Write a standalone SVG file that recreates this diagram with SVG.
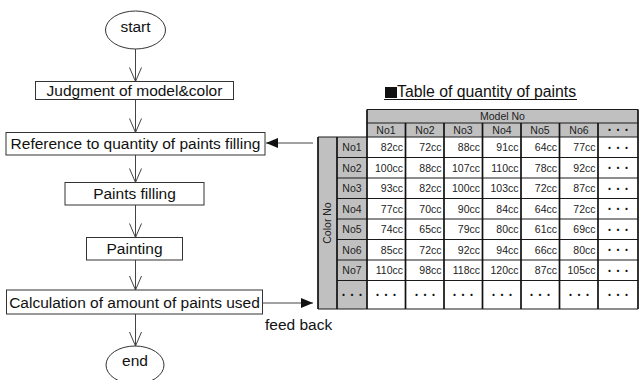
<svg xmlns="http://www.w3.org/2000/svg" width="639" height="380" viewBox="0 0 639 380">
<defs>
<style>
.box{fill:#fff;stroke:#333;stroke-width:1}
.ft{font-family:"Liberation Sans",Arial,sans-serif;font-size:15.5px;fill:#111;text-anchor:middle}
.conn{stroke:#444;stroke-width:1;fill:none}
.tt{font-family:"Liberation Sans",Arial,sans-serif;font-size:10.5px;fill:#222}
.c{text-anchor:middle}
.r{text-anchor:end}
.dots{font-family:"Noto Sans CJK JP",sans-serif;font-size:8.5px;font-weight:bold;fill:#111;text-anchor:middle}
.grid{stroke:#1a1a1a;stroke-width:1;fill:none}
.vgrid{stroke:#111;stroke-width:1.7;fill:none}
</style>
<marker id="tri" viewBox="0 0 12 10" refX="12" refY="5" markerWidth="12" markerHeight="10" markerUnits="userSpaceOnUse" orient="auto">
<path d="M0,0 L12,5 L0,10 Z" fill="#111"/>
</marker>
</defs>
<rect width="639" height="380" fill="#fff"/>

<g id="connectors">
<line class="conn" x1="135.5" y1="49" x2="135.5" y2="81.5"/>
<line class="conn" x1="135.5" y1="99.5" x2="135.5" y2="132.5"/>
<line class="conn" x1="135.5" y1="155" x2="135.5" y2="182.5"/>
<line class="conn" x1="135.5" y1="205" x2="135.5" y2="237.5"/>
<line class="conn" x1="135.5" y1="260" x2="135.5" y2="290"/>
<line class="conn" x1="135.5" y1="314" x2="135.5" y2="346"/>
<path class="conn" d="M129.5,67.5 L135.5,81.5 L141.5,67.5 M129.5,118.5 L135.5,132.5 L141.5,118.5 M129.5,168.5 L135.5,182.5 L141.5,168.5 M129.5,223.5 L135.5,237.5 L141.5,223.5 M129.5,276 L135.5,290 L141.5,276 M129.5,332 L135.5,346 L141.5,332"/>
<line class="conn" x1="313" y1="143" x2="266" y2="143" marker-end="url(#tri)"/>
<line class="conn" x1="262.5" y1="303" x2="313" y2="303" marker-end="url(#tri)"/>
</g>

<g id="start">
<ellipse cx="135.5" cy="30" rx="30" ry="19" class="box"/>
<text x="135.5" y="32" class="ft">start</text>
</g>
<g id="judgment">
<rect x="35.5" y="81.5" width="198" height="18" class="box"/>
<text x="134.5" y="96" class="ft">Judgment of model&amp;color</text>
</g>
<g id="reference">
<rect x="6" y="132.5" width="259" height="22.5" class="box"/>
<text x="135.5" y="149" class="ft">Reference to quantity of paints filling</text>
</g>
<g id="filling">
<rect x="65" y="182.5" width="139" height="22.5" class="box"/>
<text x="134.5" y="199" class="ft">Paints filling</text>
</g>
<g id="painting">
<rect x="86.5" y="237.5" width="96" height="22.5" class="box"/>
<text x="134.5" y="254" class="ft">Painting</text>
</g>
<g id="calculation">
<rect x="6.5" y="290" width="256" height="24" class="box"/>
<text x="134.5" y="307.5" class="ft">Calculation of amount of paints used</text>
</g>
<g id="end">
<ellipse cx="135" cy="365" rx="29" ry="19" class="box"/>
<text x="135" y="366" class="ft">end</text>
</g>
<g id="feedback-label">
<text x="265" y="330" class="ft" style="text-anchor:start">feed back</text>
</g>

<g id="table">
<rect x="385" y="87" width="12" height="11" fill="#111"/>
<text x="397" y="97" class="ft" style="text-anchor:start;font-size:15.8px">Table of quantity of paints</text>
<line x1="384" y1="99.5" x2="577" y2="99.5" stroke="#111" stroke-width="1.2"/>

<rect x="367" y="109.5" width="271" height="27.5" fill="#c0c0c0"/>
<rect x="318" y="137" width="49" height="172" fill="#c0c0c0"/>
<rect x="367" y="137" width="271" height="172" fill="#fff"/>
<path class="grid" d="M367,109.5 H638 M367,123 H638 M318,137 H638 M337,157.5 H638 M337,178 H638 M337,198.5 H638 M337,219 H638 M337,239.5 H638 M337,260 H638 M337,280.5 H638 M318,309 H638"/>
<path class="vgrid" d="M318,137 V309 M337,137 V309 M367,109.5 V309 M405.5,123 V309 M444,123 V309 M482.5,123 V309 M521,123 V309 M559.5,123 V309 M598,123 V309 M638,109.5 V309"/>

<text x="502.5" y="119.5" class="tt c">Model No</text>
<text x="386" y="133.5" class="tt c">No1</text>
<text x="425" y="133.5" class="tt c">No2</text>
<text x="463" y="133.5" class="tt c">No3</text>
<text x="502" y="133.5" class="tt c">No4</text>
<text x="540" y="133.5" class="tt c">No5</text>
<text x="579" y="133.5" class="tt c">No6</text>
<text x="618" y="133" class="dots">・・・</text>

<text transform="translate(331,223) rotate(-90)" class="tt c">Color No</text>

<g class="tt">
<text x="352" y="151" class="c">No1</text>
<text x="352" y="171.5" class="c">No2</text>
<text x="352" y="192" class="c">No3</text>
<text x="352" y="212.5" class="c">No4</text>
<text x="352" y="233" class="c">No5</text>
<text x="352" y="253.5" class="c">No6</text>
<text x="352" y="274" class="c">No7</text>

<text x="403" y="151" class="r">82cc</text><text x="441.5" y="151" class="r">72cc</text><text x="480" y="151" class="r">88cc</text><text x="518.5" y="151" class="r">91cc</text><text x="557" y="151" class="r">64cc</text><text x="595.5" y="151" class="r">77cc</text>
<text x="403" y="171.5" class="r">100cc</text><text x="441.5" y="171.5" class="r">88cc</text><text x="480" y="171.5" class="r">107cc</text><text x="518.5" y="171.5" class="r">110cc</text><text x="557" y="171.5" class="r">78cc</text><text x="595.5" y="171.5" class="r">92cc</text>
<text x="403" y="192" class="r">93cc</text><text x="441.5" y="192" class="r">82cc</text><text x="480" y="192" class="r">100cc</text><text x="518.5" y="192" class="r">103cc</text><text x="557" y="192" class="r">72cc</text><text x="595.5" y="192" class="r">87cc</text>
<text x="403" y="212.5" class="r">77cc</text><text x="441.5" y="212.5" class="r">70cc</text><text x="480" y="212.5" class="r">90cc</text><text x="518.5" y="212.5" class="r">84cc</text><text x="557" y="212.5" class="r">64cc</text><text x="595.5" y="212.5" class="r">72cc</text>
<text x="403" y="233" class="r">74cc</text><text x="441.5" y="233" class="r">65cc</text><text x="480" y="233" class="r">79cc</text><text x="518.5" y="233" class="r">80cc</text><text x="557" y="233" class="r">61cc</text><text x="595.5" y="233" class="r">69cc</text>
<text x="403" y="253.5" class="r">85cc</text><text x="441.5" y="253.5" class="r">72cc</text><text x="480" y="253.5" class="r">92cc</text><text x="518.5" y="253.5" class="r">94cc</text><text x="557" y="253.5" class="r">66cc</text><text x="595.5" y="253.5" class="r">80cc</text>
<text x="403" y="274" class="r">110cc</text><text x="441.5" y="274" class="r">98cc</text><text x="480" y="274" class="r">118cc</text><text x="518.5" y="274" class="r">120cc</text><text x="557" y="274" class="r">87cc</text><text x="595.5" y="274" class="r">105cc</text>
</g>
<g>
<text x="618" y="150.5" class="dots">・・・</text>
<text x="618" y="171" class="dots">・・・</text>
<text x="618" y="191.5" class="dots">・・・</text>
<text x="618" y="212" class="dots">・・・</text>
<text x="618" y="232.5" class="dots">・・・</text>
<text x="618" y="253" class="dots">・・・</text>
<text x="618" y="273.5" class="dots">・・・</text>
<text x="352" y="297.5" class="dots">・・・</text>
<text x="386" y="297.5" class="dots">・・・</text>
<text x="425" y="297.5" class="dots">・・・</text>
<text x="463" y="297.5" class="dots">・・・</text>
<text x="502" y="297.5" class="dots">・・・</text>
<text x="540" y="297.5" class="dots">・・・</text>
<text x="579" y="297.5" class="dots">・・・</text>
<text x="618" y="297.5" class="dots">・・・</text>
</g>
</g>
</svg>
